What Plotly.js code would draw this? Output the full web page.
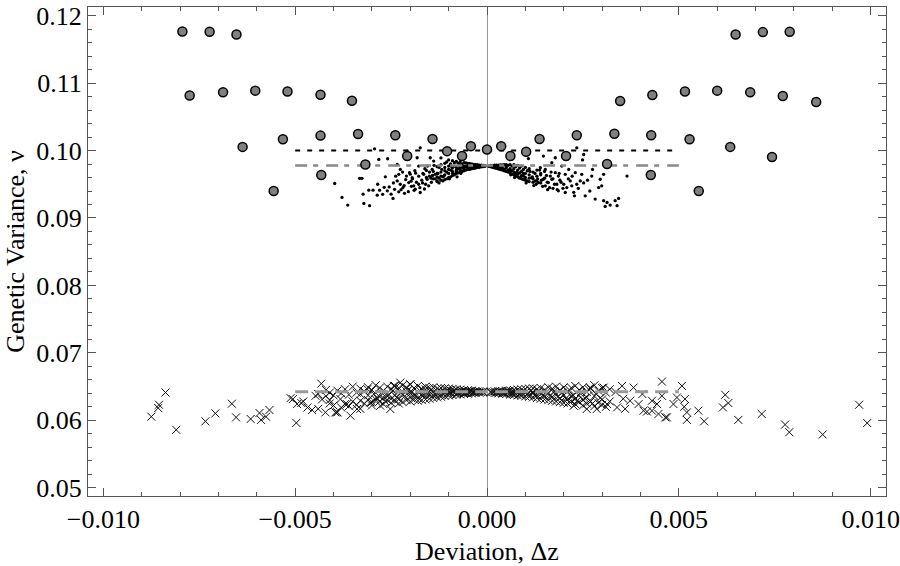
<!DOCTYPE html>
<html>
<head>
<meta charset="utf-8">
<script src="https://cdn.plot.ly/plotly-3.0.1.min.js"></script>
<style>
  body { margin: 0; background: #fff; }
  #plot { width: 900px; height: 566px; }
</style>
</head>
<body>
<div id="plot"></div>
<script>
// large grey circles (x, v)
var circlePts = [
  [-0.00794, 0.11765], [-0.00723, 0.1176], [-0.00653, 0.11721],
  [-0.00775, 0.10815], [-0.00688, 0.10863], [-0.00604, 0.10888], [-0.0052, 0.10874],
  [-0.00434, 0.10826], [-0.00352, 0.10738],
  [-0.00637, 0.10054], [-0.00532, 0.10168], [-0.00434, 0.10221], [-0.00336, 0.10246],
  [-0.00239, 0.10226], [-0.00142, 0.10172], [-0.00208, 0.09918], [-0.00104, 0.09991],
  [-0.00042, 0.10065], [-0.00065, 0.09918], [-0.00317, 0.09794], [-0.00432, 0.09638],
  [-0.00556, 0.0940], [0.0, 0.10015],
  [0.00037, 0.10065], [0.00061, 0.09918], [0.00102, 0.09981], [0.00137, 0.10172],
  [0.00206, 0.09918], [0.00234, 0.10226], [0.00313, 0.09800], [0.00332, 0.1025],
  [0.00428, 0.10226], [0.00528, 0.10167], [0.00634, 0.10054], [0.00743, 0.09903],
  [0.00427, 0.09636], [0.00552, 0.0940],
  [0.00347, 0.10735], [0.00431, 0.10824], [0.00516, 0.10874], [0.0060, 0.10888],
  [0.00686, 0.10863], [0.00771, 0.10809], [0.00858, 0.1072],
  [0.00648, 0.11721], [0.00719, 0.11756], [0.00789, 0.1176]
];

// small black dots
var dotPts = [
  // left, sparse
  [-0.00397, 0.09511], [-0.00378, 0.09304], [-0.00363, 0.09191], [-0.00332, 0.09588],
  [-0.00326, 0.09588], [-0.00323, 0.09353], [-0.00321, 0.09216], [-0.00306, 0.09182],
  [-0.00308, 0.09412], [-0.00297, 0.09412], [-0.0028, 0.09412], [-0.00286, 0.09338],
  [-0.0026, 0.09403], [-0.0025, 0.09353], [-0.00245, 0.0929], [-0.00293, 0.10025],
  [-0.00282, 0.09868], [-0.00259, 0.09878], [-0.00234, 0.09794], [-0.00226, 0.0972],
  [-0.0023, 0.09647], [-0.00234, 0.0955], [-0.00226, 0.095], [-0.00219, 0.09451],
  [-0.0023, 0.09388], [-0.0021, 0.09622], [-0.00202, 0.09672], [-0.00195, 0.09598],
  [-0.00204, 0.09525], [-0.00191, 0.09476], [-0.00187, 0.09426], [-0.00178, 0.095],
  [-0.00174, 0.09378], [-0.00182, 0.09893], [-0.00178, 0.0977], [-0.00165, 0.09647],
  [-0.00156, 0.09574], [-0.00152, 0.09476], [-0.00148, 0.09893], [-0.00139, 0.09844],
  [-0.00143, 0.0972], [-0.00135, 0.09647], [-0.0013, 0.0955], [-0.00174, 0.1004],
  [-0.00208, 0.09991], [-0.00268, 0.09455], [-0.00241, 0.09425], [-0.00215, 0.09365],
  [-0.00198, 0.09545], [-0.00163, 0.09430], [-0.00158, 0.09705], [-0.00146, 0.09590],
  [-0.00168, 0.09520], [-0.00186, 0.09665], [-0.00120, 0.09890], [-0.00125, 0.09520],
  [-0.00125, 0.0975], [-0.00128, 0.0966], [-0.00135, 0.0958], [-0.00138, 0.0978],
  [-0.00142, 0.0963], [-0.00145, 0.0953], [-0.0015, 0.0968], [-0.00155, 0.0977],
  [-0.00158, 0.096], [-0.0016, 0.095], [-0.00162, 0.0973], [-0.00167, 0.0966],
  [-0.0017, 0.0956], [-0.00175, 0.0945], [-0.00178, 0.0962], [-0.00184, 0.0953],
  [-0.00188, 0.097], [-0.0019, 0.0941], [-0.00194, 0.0958], [-0.00197, 0.0947],
  [-0.002, 0.0965], [-0.00205, 0.0939], [-0.00212, 0.0957], [-0.00216, 0.0948],
  [-0.0022, 0.0968], [-0.00224, 0.0942], [-0.00238, 0.0962], [-0.00244, 0.0952],
  [-0.00255, 0.0946], [-0.00265, 0.0961], [-0.00272, 0.0935], [-0.00285, 0.095],
  // left, dense wedge
  [-0.00005, 0.09772], [-0.00005, 0.09768], [-0.0001, 0.0978], [-0.0001, 0.0976],
  [-0.00015, 0.09782], [-0.00015, 0.09758], [-0.00015, 0.0977], [-0.0002, 0.09785],
  [-0.0002, 0.09752], [-0.0002, 0.09768], [-0.00025, 0.0979], [-0.00025, 0.0975],
  [-0.00025, 0.0976], [-0.0003, 0.0979], [-0.0003, 0.0974], [-0.0003, 0.0976],
  [-0.0003, 0.09775], [-0.00035, 0.09795], [-0.00035, 0.09735], [-0.00035, 0.0975],
  [-0.00035, 0.0978], [-0.0004, 0.098], [-0.0004, 0.0973], [-0.0004, 0.09765],
  [-0.0004, 0.0975], [-0.00045, 0.09805], [-0.00045, 0.09722], [-0.00045, 0.0976],
  [-0.00045, 0.0974], [-0.0005, 0.0981], [-0.0005, 0.0972], [-0.0005, 0.0975],
  [-0.0005, 0.0978], [-0.0005, 0.0973], [-0.00055, 0.09815], [-0.00055, 0.0971],
  [-0.00055, 0.0976], [-0.0006, 0.0982], [-0.0006, 0.097], [-0.0006, 0.0974],
  [-0.0006, 0.0977], [-0.0006, 0.0972], [-0.00065, 0.098], [-0.00065, 0.0969],
  [-0.00065, 0.0975], [-0.0007, 0.0983], [-0.0007, 0.0968], [-0.0007, 0.0972],
  [-0.0007, 0.0976], [-0.0007, 0.0979], [-0.00075, 0.0981], [-0.00075, 0.0967],
  [-0.00075, 0.0973], [-0.0008, 0.0984], [-0.0008, 0.0966], [-0.0008, 0.0971],
  [-0.0008, 0.0975], [-0.0008, 0.0969], [-0.00085, 0.0982], [-0.00085, 0.0964],
  [-0.00085, 0.0977], [-0.0009, 0.0985], [-0.0009, 0.0963], [-0.0009, 0.0969],
  [-0.0009, 0.0974], [-0.0009, 0.0967], [-0.00095, 0.098], [-0.00095, 0.0961],
  [-0.00095, 0.0971], [-0.001, 0.0986], [-0.001, 0.096], [-0.001, 0.0966],
  [-0.001, 0.0972], [-0.001, 0.0977], [-0.00105, 0.0983], [-0.00105, 0.0958],
  [-0.00105, 0.0968], [-0.0011, 0.0981], [-0.0011, 0.0957], [-0.0011, 0.0964],
  [-0.0011, 0.097], [-0.0011, 0.0975], [-0.00115, 0.0961], [-0.00115, 0.0955],
  [-0.0012, 0.0979], [-0.0012, 0.0956], [-0.0012, 0.0962], [-0.0012, 0.0968],
  [-0.00125, 0.0959], [-0.0013, 0.0976], [-0.0013, 0.0954], [-0.0013, 0.0961],
  [-0.0013, 0.0966], [-0.0014, 0.0958], [-0.0014, 0.0969], [-0.0015, 0.0962],
  [-0.00113, 0.0962], [-0.00118, 0.0972], [-0.00098, 0.0958], [-0.00092, 0.0976],
  [-0.00088, 0.0966], [-0.00078, 0.0961], [-0.00072, 0.0981], [-0.00068, 0.0966],
  // right, dense wedge
  [0.00005, 0.09772], [0.00005, 0.09766], [0.0001, 0.09778], [0.0001, 0.09758],
  [0.0001, 0.09768], [0.00015, 0.0978], [0.00015, 0.0975], [0.00015, 0.09765],
  [0.0002, 0.09782], [0.0002, 0.09742], [0.0002, 0.0976], [0.0002, 0.0975],
  [0.00025, 0.09783], [0.00025, 0.09735], [0.00025, 0.09755], [0.0003, 0.09785],
  [0.0003, 0.09725], [0.0003, 0.0975], [0.0003, 0.0977], [0.00035, 0.09786],
  [0.00035, 0.09718], [0.00035, 0.0974], [0.0004, 0.09788], [0.0004, 0.0971],
  [0.0004, 0.0973], [0.0004, 0.0976], [0.00045, 0.0979], [0.00045, 0.097],
  [0.00045, 0.0972], [0.0005, 0.0979], [0.0005, 0.0969], [0.0005, 0.0974],
  [0.0005, 0.0976], [0.00055, 0.0978], [0.00055, 0.0968], [0.00055, 0.0971],
  [0.0006, 0.0979], [0.0006, 0.0967], [0.0006, 0.0973], [0.0006, 0.0969],
  [0.00065, 0.0977], [0.00065, 0.0965], [0.00065, 0.097], [0.0007, 0.0979],
  [0.0007, 0.0964], [0.0007, 0.0968], [0.0007, 0.0973], [0.00075, 0.0976],
  [0.00075, 0.0962], [0.00075, 0.0966], [0.0008, 0.0978], [0.0008, 0.0961],
  [0.0008, 0.0965], [0.0008, 0.0971], [0.00085, 0.0974], [0.00085, 0.0959],
  [0.00085, 0.0967], [0.0009, 0.0977], [0.0009, 0.0958], [0.0009, 0.0963],
  [0.0009, 0.0969], [0.00095, 0.0972], [0.00095, 0.0957], [0.00095, 0.0962],
  [0.001, 0.0975], [0.001, 0.0956], [0.001, 0.096], [0.001, 0.0966],
  [0.00105, 0.097], [0.00105, 0.0955], [0.0011, 0.0973], [0.0011, 0.0954],
  [0.0011, 0.0959], [0.0011, 0.0964], [0.0012, 0.0968], [0.0012, 0.0953],
  [0.0012, 0.0958], [0.0013, 0.0971], [0.0013, 0.0955], [0.0013, 0.0962],
  [0.0014, 0.0966], [0.0014, 0.0952], [0.0015, 0.0959], [0.0015, 0.0969],
  [0.00095, 0.0966], [0.00088, 0.0961], [0.00078, 0.0968], [0.00072, 0.096],
  [0.00062, 0.0964], [0.00102, 0.0952],
  // right, sparse
  [0.00234, 0.1004], [0.00252, 0.09941], [0.00178, 0.09893], [0.00147, 0.09918],
  [0.00169, 0.09819], [0.00195, 0.0977], [0.00213, 0.0972], [0.0023, 0.09672],
  [0.00247, 0.09647], [0.00204, 0.09647], [0.00217, 0.0955], [0.002, 0.095],
  [0.00221, 0.09476], [0.00234, 0.095], [0.00243, 0.0955], [0.00186, 0.09403],
  [0.00204, 0.09378], [0.00228, 0.09329], [0.00256, 0.09329], [0.00282, 0.0928],
  [0.00273, 0.09622], [0.00295, 0.09574], [0.00304, 0.09647], [0.00299, 0.09476],
  [0.00291, 0.09451], [0.00304, 0.09256], [0.00313, 0.09231], [0.00334, 0.09256],
  [0.00321, 0.09191], [0.00339, 0.09182], [0.00343, 0.0929], [0.00365, 0.09622],
  [0.00308, 0.09172], [0.00169, 0.09574], [0.00182, 0.095], [0.00152, 0.09476],
  [0.0016, 0.09525], [0.00165, 0.09622], [0.00147, 0.09574], [0.00134, 0.09525],
  [0.00126, 0.0955], [0.00117, 0.09598], [0.00178, 0.09672], [0.00186, 0.09622],
  [0.00152, 0.0972], [0.00139, 0.09745], [0.00208, 0.09451], [0.00249, 0.0986],
  [0.00275, 0.0972], [0.00158, 0.0942], [0.00172, 0.0944], [0.00122, 0.0948],
  [0.00262, 0.0956], [0.0014, 0.0964], [0.0019, 0.0956], [0.00108, 0.0988],
  [0.00112, 0.0969], [0.00118, 0.0961], [0.00125, 0.0966], [0.00128, 0.095],
  [0.00132, 0.0958], [0.00137, 0.0971], [0.00142, 0.0956], [0.00145, 0.0947],
  [0.00155, 0.0963], [0.00157, 0.0953], [0.00163, 0.0945], [0.00167, 0.0968],
  [0.00172, 0.0958], [0.00176, 0.095], [0.00183, 0.0942], [0.00188, 0.0966],
  [0.00193, 0.0953], [0.00198, 0.0944], [0.00212, 0.0958], [0.00222, 0.0962],
  [0.00226, 0.0938], [0.00238, 0.0944], [0.00252, 0.0952], [0.00268, 0.094]
];

// crosses
var crossPts = [
  // left, sparse
  [-0.00875, 0.06054], [-0.00855, 0.06231], [-0.00857, 0.06182], [-0.00838, 0.06412],
  [-0.0081, 0.05859], [-0.00734, 0.05985], [-0.00708, 0.06103], [-0.00665, 0.06246],
  [-0.00654, 0.06044], [-0.00616, 0.0602], [-0.00593, 0.06109], [-0.00589, 0.06006],
  [-0.00576, 0.06054], [-0.00567, 0.06153], [-0.00512, 0.06329], [-0.00506, 0.06315],
  [-0.00497, 0.05962], [-0.00495, 0.06241], [-0.00484, 0.06256], [-0.00479, 0.06279],
  [-0.00456, 0.06153], [-0.00432, 0.06544], [-0.00447, 0.06363], [-0.00421, 0.06118],
  [-0.00391, 0.06118], [-0.00356, 0.06069], [-0.0033, 0.06388], [-0.00395, 0.06118],
  [-0.00339, 0.06168], [-0.00382, 0.06315], [-0.00304, 0.06265], [-0.00278, 0.06216],
  [-0.00243, 0.0651], [-0.00226, 0.06559], [-0.002, 0.06535], [-0.00312, 0.06462],
  [-0.00252, 0.06168], [-0.00468, 0.0619], [-0.0041, 0.063], [-0.00365, 0.0624],
  // left, dense wedge
  [-0.0001, 0.06425], [-0.0001, 0.06415], [-0.0002, 0.0643], [-0.0002, 0.0641],
  [-0.0003, 0.06435], [-0.0003, 0.06405], [-0.0003, 0.0642], [-0.0004, 0.0644],
  [-0.0004, 0.064], [-0.0004, 0.06425], [-0.0005, 0.06445], [-0.0005, 0.06395],
  [-0.0005, 0.0642], [-0.0006, 0.0645], [-0.0006, 0.0639], [-0.0006, 0.06425],
  [-0.0006, 0.06405], [-0.0007, 0.06455], [-0.0007, 0.06385], [-0.0007, 0.0642],
  [-0.0008, 0.0646], [-0.0008, 0.0638], [-0.0008, 0.06425], [-0.0008, 0.06395],
  [-0.0009, 0.06465], [-0.0009, 0.06375], [-0.0009, 0.0643], [-0.001, 0.0647],
  [-0.001, 0.0637], [-0.001, 0.0642], [-0.001, 0.06395], [-0.001, 0.06445],
  [-0.0011, 0.06475], [-0.0011, 0.0636], [-0.0011, 0.0641], [-0.0012, 0.0648],
  [-0.0012, 0.0635], [-0.0012, 0.06425], [-0.0012, 0.0638], [-0.0013, 0.0647],
  [-0.0013, 0.0634], [-0.0013, 0.064], [-0.0014, 0.0649], [-0.0014, 0.0633],
  [-0.0014, 0.0642], [-0.0014, 0.0637], [-0.0015, 0.0648], [-0.0015, 0.0632],
  [-0.0015, 0.0639], [-0.0016, 0.065], [-0.0016, 0.0631], [-0.0016, 0.0641],
  [-0.0016, 0.0646], [-0.0017, 0.0647], [-0.0017, 0.063], [-0.0017, 0.0638],
  [-0.0018, 0.0651], [-0.0018, 0.0629], [-0.0018, 0.0642], [-0.0018, 0.0633],
  [-0.0019, 0.0648], [-0.0019, 0.0631], [-0.0019, 0.0637], [-0.002, 0.0653],
  [-0.002, 0.0628], [-0.002, 0.064], [-0.002, 0.0634], [-0.0021, 0.0649],
  [-0.0021, 0.063], [-0.0021, 0.0643], [-0.0022, 0.0652], [-0.0022, 0.0627],
  [-0.0022, 0.0639], [-0.0023, 0.0648], [-0.0023, 0.0631], [-0.0023, 0.0625],
  [-0.0024, 0.0651], [-0.0024, 0.0629], [-0.0024, 0.0637], [-0.0025, 0.0646],
  [-0.0025, 0.0626], [-0.0025, 0.0632], [-0.0026, 0.065], [-0.0026, 0.063],
  [-0.0026, 0.0636], [-0.0027, 0.0644], [-0.0027, 0.0624], [-0.0027, 0.0633],
  [-0.0028, 0.0648], [-0.0028, 0.0628], [-0.0028, 0.0635], [-0.0029, 0.0652],
  [-0.0029, 0.0631], [-0.003, 0.0645], [-0.003, 0.0627], [-0.003, 0.0622],
  [-0.0031, 0.0649], [-0.0031, 0.063], [-0.0031, 0.0637], [-0.0032, 0.0643],
  [-0.0032, 0.0625], [-0.0033, 0.0647], [-0.0033, 0.0629], [-0.0033, 0.0617],
  [-0.0034, 0.0641], [-0.0034, 0.0623], [-0.0035, 0.065], [-0.0035, 0.0628],
  [-0.0036, 0.0638], [-0.0036, 0.0621], [-0.0037, 0.0646], [-0.0037, 0.0624],
  [-0.0038, 0.064], [-0.0038, 0.0619], [-0.0039, 0.0644], [-0.0039, 0.0612],
  [-0.004, 0.0637], [-0.004, 0.0622], [-0.0041, 0.0641], [-0.0041, 0.0625],
  [-0.0042, 0.0636], [-0.0042, 0.0645], [-0.0043, 0.0631], [-0.0044, 0.0639],
  [-0.0044, 0.0617],
  [-0.00015, 0.0642], [-0.00025, 0.06425], [-0.00035, 0.06412], [-0.00045, 0.0643],
  [-0.00055, 0.06408], [-0.00065, 0.06435], [-0.00075, 0.06402], [-0.00085, 0.06438],
  [-0.00095, 0.06405], [-0.00105, 0.06432], [-0.00115, 0.06395], [-0.00125, 0.06455],
  [-0.00135, 0.06385], [-0.00145, 0.0645], [-0.00155, 0.06405], [-0.00165, 0.06375],
  [-0.00175, 0.0644], [-0.00185, 0.06365], [-0.00195, 0.0642], [-0.00205, 0.0645],
  [-0.00215, 0.06355], [-0.00225, 0.0641], [-0.00235, 0.0634], [-0.00245, 0.0644],
  [-0.00255, 0.0638], [-0.00265, 0.0628], [-0.00275, 0.0641], [-0.00285, 0.0632],
  [-0.00295, 0.0639],
  // right, dense wedge
  [0.0001, 0.06425], [0.0001, 0.06412], [0.0002, 0.0643], [0.0002, 0.06405],
  [0.0003, 0.06432], [0.0003, 0.064], [0.0003, 0.06418], [0.0004, 0.06435],
  [0.0004, 0.06395], [0.0004, 0.06415], [0.0005, 0.0644], [0.0005, 0.0639],
  [0.0005, 0.0642], [0.0006, 0.06445], [0.0006, 0.06382], [0.0006, 0.0641],
  [0.0007, 0.0645], [0.0007, 0.06375], [0.0007, 0.0642], [0.0007, 0.064],
  [0.0008, 0.06455], [0.0008, 0.0637], [0.0008, 0.0641], [0.0009, 0.0646],
  [0.0009, 0.06362], [0.0009, 0.0642], [0.0009, 0.0639], [0.001, 0.06465],
  [0.001, 0.06355], [0.001, 0.0641], [0.0011, 0.0647], [0.0011, 0.0635],
  [0.0011, 0.0638], [0.0012, 0.06475], [0.0012, 0.0634], [0.0012, 0.0642],
  [0.0012, 0.064], [0.0013, 0.0646], [0.0013, 0.0633], [0.0013, 0.0637],
  [0.0014, 0.0648], [0.0014, 0.0632], [0.0014, 0.0641], [0.0015, 0.0645],
  [0.0015, 0.0631], [0.0015, 0.0636], [0.0016, 0.0649], [0.0016, 0.063],
  [0.0016, 0.064], [0.0017, 0.0647], [0.0017, 0.0629], [0.0017, 0.0635],
  [0.0018, 0.065], [0.0018, 0.0628], [0.0018, 0.0638], [0.0019, 0.0645],
  [0.0019, 0.0627], [0.0019, 0.0633], [0.002, 0.0649], [0.002, 0.0626],
  [0.002, 0.0637], [0.0021, 0.0643], [0.0021, 0.0625], [0.0021, 0.0631],
  [0.0022, 0.0648], [0.0022, 0.0628], [0.0022, 0.0635], [0.0023, 0.0651],
  [0.0023, 0.0624], [0.0023, 0.0632], [0.0024, 0.0645], [0.0024, 0.0627],
  [0.0024, 0.0637], [0.0025, 0.0649], [0.0025, 0.0622], [0.0025, 0.063],
  [0.0026, 0.0642], [0.0026, 0.0625], [0.0026, 0.0634], [0.0027, 0.0647],
  [0.0027, 0.0628], [0.0028, 0.0652], [0.0028, 0.0621], [0.0028, 0.0636],
  [0.0029, 0.0644], [0.0029, 0.0626], [0.003, 0.0648], [0.003, 0.0623],
  [0.003, 0.0631], [0.0031, 0.0641], [0.0031, 0.062], [0.0032, 0.0646],
  [0.0032, 0.0628],
  [0.00015, 0.0642], [0.00025, 0.06412], [0.00035, 0.06428], [0.00045, 0.06402],
  [0.00055, 0.06432], [0.00065, 0.06395], [0.00075, 0.0643], [0.00085, 0.06385],
  [0.00095, 0.06435], [0.00105, 0.0639], [0.00115, 0.0644], [0.00125, 0.06375],
  [0.00135, 0.0643], [0.00145, 0.0637], [0.00155, 0.0642], [0.00165, 0.0636],
  [0.00175, 0.0643], [0.00185, 0.0635], [0.00195, 0.0641], [0.00205, 0.0632],
  [0.00215, 0.0645], [0.00225, 0.0637], [0.00235, 0.0629], [0.00245, 0.0642],
  [0.00255, 0.0633], [0.00265, 0.0646], [0.00275, 0.0625], [0.00285, 0.0639],
  [0.00295, 0.0633],
  // right, sparse
  [0.00226, 0.06216], [0.0026, 0.06168], [0.00286, 0.06168], [0.00313, 0.06241],
  [0.00339, 0.06191], [0.00269, 0.06485], [0.00304, 0.06485], [0.00352, 0.0651],
  [0.00382, 0.06485], [0.00373, 0.0629], [0.00395, 0.06241], [0.00408, 0.06143],
  [0.00417, 0.0613], [0.00443, 0.06241], [0.00447, 0.06094], [0.00456, 0.06363],
  [0.00465, 0.06044], [0.00486, 0.06241], [0.00495, 0.06338], [0.00514, 0.06201],
  [0.00521, 0.06118], [0.00521, 0.06006], [0.00551, 0.06143], [0.00566, 0.05985],
  [0.00456, 0.06574], [0.00508, 0.0651], [0.00516, 0.06315], [0.0043, 0.06143],
  [0.00469, 0.06044], [0.00621, 0.06378], [0.00629, 0.06256], [0.00615, 0.06191],
  [0.00655, 0.06006], [0.00716, 0.06094], [0.00777, 0.05937], [0.00788, 0.05824],
  [0.00875, 0.0579], [0.0097, 0.06231], [0.00991, 0.0596], [0.00355, 0.0632],
  [0.00335, 0.0642], [0.00405, 0.0639], [0.0043, 0.0629], [0.0036, 0.0617]
];

// reference levels, drawn over -0.005 .. 0.005
var lineX = [-0.005, 0.005];
var levelDotted = 0.1000;
var levelDashDot = 0.09777;
var levelDashed = 0.06422;

var traces = [
  {
    x: dotPts.map(p => p[0]),
    y: dotPts.map(p => p[1]),
    mode: 'markers', type: 'scatter',
    marker: {size: 3.3, color: '#000'}
  },
  {
    x: crossPts.map(p => p[0]),
    y: crossPts.map(p => p[1]),
    mode: 'markers', type: 'scatter',
    marker: {symbol: 'x-thin', size: 8, color: '#111', line: {width: 1, color: '#111'}}
  },
  {
    x: lineX, y: [levelDotted, levelDotted],
    mode: 'lines', type: 'scatter',
    line: {color: '#000', width: 2, dash: '5px,7px'}
  },
  {
    x: lineX, y: [levelDashDot, levelDashDot],
    mode: 'lines', type: 'scatter',
    line: {color: '#888', width: 2.5, dash: '12px,6px,5px,8px'}
  },
  {
    x: lineX, y: [levelDashed, levelDashed],
    mode: 'lines', type: 'scatter',
    line: {color: '#999', width: 3, dash: '13px,7px'}
  },
  {
    x: circlePts.map(p => p[0]),
    y: circlePts.map(p => p[1]),
    mode: 'markers', type: 'scatter',
    marker: {size: 9, color: '#808080', line: {width: 1.5, color: '#000'}}
  }
];

var axisFont = {family: 'Liberation Serif, Times New Roman, serif', size: 26, color: '#000'};

var layout = {
  width: 900, height: 566,
  margin: {l: 88, r: 14, t: 7, b: 70},
  showlegend: false,
  paper_bgcolor: '#fff', plot_bgcolor: '#fff',
  font: axisFont,
  xaxis: {
    range: [-0.0104, 0.0104],
    tick0: 0, dtick: 0.005, tickformat: '.3f',
    ticks: 'inside', ticklen: 8, tickcolor: '#555', tickwidth: 1,
    minor: {dtick: 0.001, ticks: 'inside', ticklen: 4, tickcolor: '#555'},
    showline: true, linecolor: '#555', linewidth: 1, mirror: 'ticks',
    showgrid: false,
    zeroline: true, zerolinecolor: '#999', zerolinewidth: 1,
    tickfont: axisFont, ticklabeloverflow: 'allow',
    title: {text: 'Deviation, \u0394z', font: axisFont, standoff: 10}
  },
  yaxis: {
    range: [0.04878, 0.12128],
    tick0: 0, dtick: 0.01, tickformat: '.2f',
    ticks: 'inside', ticklen: 8, tickcolor: '#555', tickwidth: 1,
    minor: {dtick: 0.002, ticks: 'inside', ticklen: 4, tickcolor: '#555'},
    showline: true, linecolor: '#555', linewidth: 1, mirror: 'ticks',
    showgrid: false, zeroline: false,
    tickfont: axisFont, ticklabeloverflow: 'allow',
    title: {text: 'Genetic Variance, \u03bd', font: axisFont, standoff: 4}
  }
};

Plotly.newPlot('plot', traces, layout, {staticPlot: true});
</script>
</body>
</html>
